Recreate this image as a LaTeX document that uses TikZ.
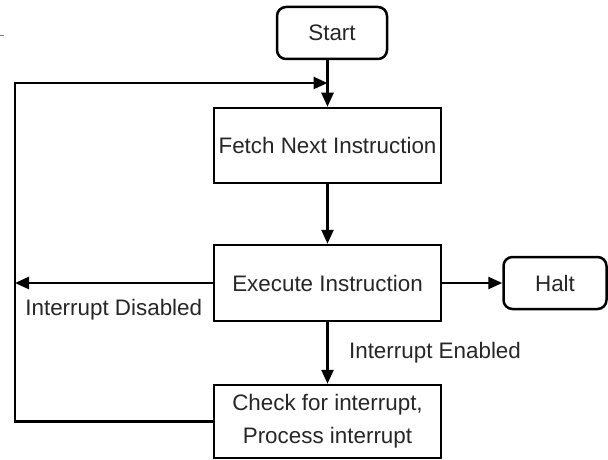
\documentclass[tikz,border=0pt]{standalone}
\usepackage{fontspec}
\setmainfont{Liberation Sans}
\usepackage{tikz}
\usetikzlibrary{arrows.meta}
\usetikzlibrary{calc,positioning}

\begin{document}
\begin{tikzpicture}[x=1pt, y=-1pt, >={Triangle[length=14pt,width=12pt]},
    every node/.style={font=\fontsize{22.4}{33}\selectfont, text=black!85},
    proc/.style={draw, line width=2.5pt, minimum width=227pt, inner sep=0pt},
    term/.style={draw, line width=2.5pt, rounded corners=9pt, inner sep=0pt, minimum height=52pt},
    flow/.style={line width=2.5pt, ->}]
    \useasboundingbox (0,0) rectangle (608,460);

    \node[term, minimum width=110pt] (start) at (332,33) {Start};
    \node[proc, minimum height=75pt] (fetch) at (327.5,145.5) {Fetch Next Instruction};
    \node[proc, minimum height=76pt] (exec) at (327.5,283) {Execute Instruction};
    \node[proc, minimum height=73pt, align=center] (check) at (327.5,421.5) {Check for interrupt,\\Process interrupt};
    \node[term, minimum width=103pt] (halt) at (555,283) {Halt};

    % corner of the loop back and where it meets the main line
    \coordinate (loop) at (15,83);
    \coordinate (join) at (fetch.north |- loop);

    \draw[flow] (start.south -| fetch) -- (fetch.north);
    \draw[flow] (fetch) -- (exec);
    \draw[flow] (exec) -- (halt);
    \draw[flow] (exec) -- node[midway, anchor=west, xshift=17pt] (enabled) {Interrupt Enabled} (check);
    \draw[flow] (exec.west) -- (exec.west -| loop)
        node[pos=0, anchor=east, xshift=-6pt, yshift=-27pt] (disabled) {Interrupt Disabled};
    \draw[flow] (check.west) -| (loop) -- (join);

    \draw[gray, line width=1pt] (0,36) -- (4,36);
\end{tikzpicture}
\end{document}
